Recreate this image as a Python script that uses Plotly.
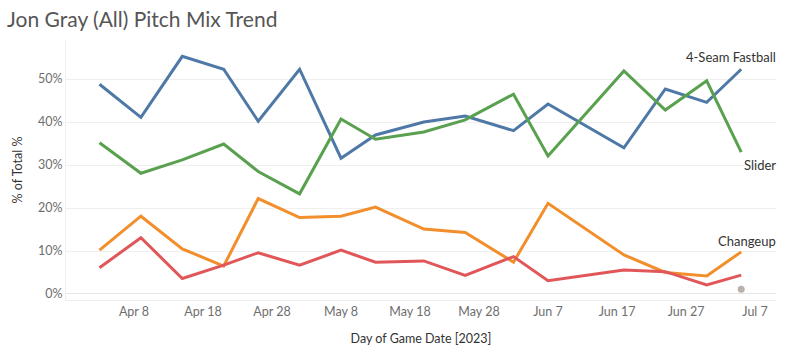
import plotly.graph_objects as go

dates = ["2023-04-03", "2023-04-09", "2023-04-15", "2023-04-21", "2023-04-26", "2023-05-02",
         "2023-05-08", "2023-05-13", "2023-05-20", "2023-05-26", "2023-06-02", "2023-06-07",
         "2023-06-18", "2023-06-24", "2023-06-30", "2023-07-05"]

fastball = [48.8, 41.1, 55.3, 52.3, 40.2, 52.3, 31.6, 37.0, 40.0, 41.4, 38.0, 44.2, 34.0, 47.7, 44.6, 52.3]
slider = [35.2, 28.1, 31.2, 34.9, 28.5, 23.3, 40.7, 36.0, 37.7, 40.5, 46.5, 32.1, 51.9, 42.8, 49.6, 33.0]
changeup = [10.2, 18.1, 10.5, 6.5, 22.2, 17.8, 18.1, 20.2, 15.1, 14.3, 7.4, 21.1, 9.1, 5.0, 4.2, 9.8]
curveball = [6.1, 13.1, 3.6, 6.7, 9.6, 6.7, 10.2, 7.4, 7.7, 4.3, 8.7, 3.1, 5.6, 5.2, 2.1, 4.4]
other_dates = ["2023-07-05"]
other = [1.1]

y_ticks = [0, 10, 20, 30, 40, 50]
y_tick_labels = ["0%", "10%", "20%", "30%", "40%", "50%"]

series = [
    ("4-Seam Fastball", fastball, "#4e79a7", 2.8),
    ("Slider", slider, "#59a14f", -3.0),
    ("Changeup", changeup, "#f28e2b", 2.6),
    ("Curveball", curveball, "#e15759", None),
]

FONT = "Lato"

fig = go.Figure()
for name, vals, color, off in series:
    fig.add_trace(go.Scatter(x=dates, y=vals, mode="lines", name=name,
                             line=dict(color=color, width=3)))
    if off is not None:
        fig.add_annotation(x=1, xref="paper", xanchor="right", y=vals[-1] + off, yref="y",
                           text=name, showarrow=False, xshift=2,
                           font=dict(family=FONT, size=13, color="#333333"))

fig.add_trace(go.Scatter(x=other_dates, y=other, mode="markers", name="Other",
                         marker=dict(color="#bab0ac", size=7)))

fig.update_layout(
    width=786, height=360,
    margin=dict(l=66, r=10, t=40, b=60, autoexpand=False),
    paper_bgcolor="white", plot_bgcolor="white",
    showlegend=False,
    font=dict(family=FONT, size=12.5, color="#666666"),
    title=dict(text="Jon Gray (All) Pitch Mix Trend", x=0.009, xanchor="left",
               y=0.945, yanchor="middle", yref="container",
               font=dict(family=FONT, size=21, color="#555555")),
)

fig.update_xaxes(
    type="date", automargin=False,
    range=["2023-03-29 03:30", "2023-07-10 01:00"],
    tick0="2023-04-08", dtick=10 * 86400000, tickformat="%b %-d",
    showgrid=False, zeroline=False,
    showline=True, linecolor="#eeeeee", linewidth=1,
    ticks="", tickfont=dict(family=FONT, size=12.5, color="#6e6e6e"),
    title=dict(text="Day of Game Date [2023]", font=dict(family=FONT, size=12.5, color="#333333"),
               standoff=16),
)
fig.update_yaxes(
    automargin=False,
    range=[-1.4, 59.1],
    tickmode="array", tickvals=y_ticks, ticktext=y_tick_labels,
    showgrid=True, gridcolor="#efefef", gridwidth=1,
    zeroline=True, zerolinecolor="#e6e6e6", zerolinewidth=1,
    showline=True, linecolor="#eeeeee", linewidth=1,
    ticks="", tickfont=dict(family=FONT, size=12.5, color="#6e6e6e"),
    title=dict(text="% of Total %", font=dict(family=FONT, size=12.5, color="#333333"),
               standoff=12),
)

fig.write_html("out.html", config={"displayModeBar": False},
               post_script="document.body.style.margin='0';document.body.style.overflow='hidden';")
